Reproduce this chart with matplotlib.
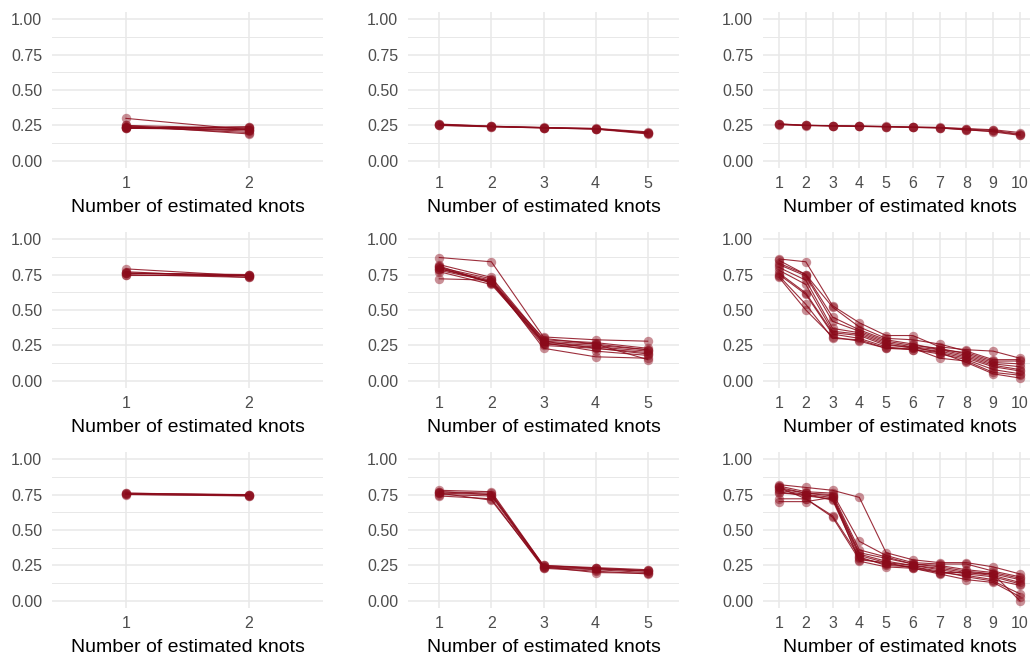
import numpy as np
import matplotlib
matplotlib.use('Agg')
import matplotlib.pyplot as plt
from matplotlib.ticker import MultipleLocator

plt.rcParams['font.family'] = ['Liberation Sans', 'DejaVu Sans']

#%% data: one list per simulation run, values at knots 1..K

# row 1
p11 = [[0.30, 0.22], [0.24, 0.23], [0.25, 0.19], [0.23, 0.24], [0.24, 0.21],
       [0.23, 0.22], [0.25, 0.23], [0.24, 0.20], [0.23, 0.24], [0.24, 0.22]]
p12 = [[0.26, 0.245, 0.235, 0.228, 0.200], [0.255, 0.243, 0.234, 0.226, 0.195],
       [0.25, 0.24, 0.233, 0.224, 0.190], [0.258, 0.244, 0.236, 0.229, 0.205],
       [0.252, 0.242, 0.232, 0.225, 0.198]]
p13 = [[0.26, 0.25, 0.248, 0.245, 0.243, 0.238, 0.235, 0.225, 0.215, 0.19],
       [0.255, 0.252, 0.247, 0.246, 0.242, 0.237, 0.233, 0.220, 0.205, 0.18],
       [0.262, 0.251, 0.249, 0.244, 0.241, 0.239, 0.236, 0.228, 0.220, 0.20],
       [0.258, 0.249, 0.246, 0.243, 0.240, 0.236, 0.232, 0.218, 0.210, 0.185]]

# row 2
p21 = [[0.79, 0.74], [0.76, 0.75], [0.75, 0.73], [0.76, 0.74], [0.75, 0.75],
       [0.77, 0.73], [0.76, 0.745]]
p22 = [[0.87, 0.84, 0.31, 0.29, 0.28], [0.82, 0.73, 0.29, 0.27, 0.23],
       [0.80, 0.72, 0.28, 0.26, 0.22], [0.79, 0.71, 0.27, 0.25, 0.22],
       [0.78, 0.70, 0.26, 0.24, 0.21], [0.81, 0.69, 0.25, 0.23, 0.19],
       [0.77, 0.68, 0.27, 0.21, 0.18], [0.72, 0.71, 0.23, 0.17, 0.16],
       [0.79, 0.70, 0.30, 0.26, 0.15], [0.80, 0.69, 0.28, 0.23, 0.20]]
p23 = [[0.86, 0.84, 0.53, 0.41, 0.32, 0.32, 0.24, 0.22, 0.21, 0.16],
       [0.85, 0.75, 0.52, 0.38, 0.30, 0.29, 0.26, 0.21, 0.15, 0.15],
       [0.83, 0.75, 0.45, 0.36, 0.29, 0.26, 0.22, 0.20, 0.14, 0.14],
       [0.82, 0.74, 0.42, 0.35, 0.28, 0.25, 0.23, 0.19, 0.13, 0.12],
       [0.80, 0.71, 0.37, 0.34, 0.27, 0.24, 0.22, 0.18, 0.12, 0.10],
       [0.78, 0.68, 0.35, 0.33, 0.26, 0.23, 0.21, 0.17, 0.11, 0.08],
       [0.76, 0.62, 0.34, 0.32, 0.25, 0.24, 0.20, 0.16, 0.10, 0.07],
       [0.75, 0.61, 0.33, 0.30, 0.24, 0.22, 0.19, 0.15, 0.08, 0.05],
       [0.74, 0.54, 0.30, 0.29, 0.23, 0.23, 0.16, 0.14, 0.06, 0.04],
       [0.73, 0.50, 0.31, 0.28, 0.23, 0.22, 0.20, 0.13, 0.05, 0.02]]

# row 3
p31 = [[0.76, 0.745], [0.75, 0.74], [0.755, 0.75], [0.76, 0.748], [0.752, 0.742]]
p32 = [[0.78, 0.77, 0.25, 0.235, 0.22], [0.77, 0.76, 0.245, 0.23, 0.215],
       [0.76, 0.75, 0.24, 0.225, 0.21], [0.75, 0.74, 0.235, 0.22, 0.20],
       [0.74, 0.72, 0.23, 0.21, 0.19], [0.76, 0.71, 0.24, 0.20, 0.195],
       [0.77, 0.75, 0.25, 0.23, 0.21]]
p33 = [[0.82, 0.80, 0.78, 0.73, 0.34, 0.29, 0.27, 0.27, 0.24, 0.19],
       [0.81, 0.77, 0.76, 0.42, 0.32, 0.27, 0.26, 0.26, 0.21, 0.17],
       [0.80, 0.76, 0.75, 0.36, 0.31, 0.26, 0.25, 0.22, 0.20, 0.16],
       [0.79, 0.76, 0.74, 0.34, 0.30, 0.26, 0.24, 0.21, 0.19, 0.15],
       [0.78, 0.75, 0.73, 0.33, 0.28, 0.25, 0.23, 0.20, 0.18, 0.13],
       [0.77, 0.74, 0.72, 0.32, 0.27, 0.25, 0.22, 0.19, 0.17, 0.12],
       [0.76, 0.75, 0.71, 0.30, 0.26, 0.24, 0.20, 0.18, 0.15, 0.11],
       [0.80, 0.72, 0.60, 0.31, 0.25, 0.24, 0.21, 0.17, 0.14, 0.05],
       [0.72, 0.72, 0.59, 0.29, 0.27, 0.23, 0.19, 0.15, 0.13, 0.03],
       [0.70, 0.70, 0.73, 0.28, 0.24, 0.23, 0.20, 0.20, 0.19, 0.00]]

panels = [[p11, p12, p13], [p21, p22, p23], [p31, p32, p33]]

#%% plot
col = '#8B0A1A'
W, H = 1030, 657
fig = plt.figure(figsize=(W / 100, H / 100), dpi=100)

lefts = [52, 408, 763]
rights = [323, 679, 1036]
tops = [12, 232, 452]
ph = 156

for r in range(3):
    for c in range(3):
        runs = panels[r][c]
        ax = fig.add_axes([lefts[c] / W, 1 - (tops[r] + ph) / H,
                           (rights[c] - lefts[c]) / W, ph / H])
        k = len(runs[0])
        x = np.arange(1, k + 1)
        for run in runs:
            ax.plot(x, run, color=col, lw=0.8, alpha=0.85, zorder=3)
            ax.scatter(x, run, s=46, color=col, alpha=0.45, lw=0, zorder=4)
        ax.set_xlim(0.4, k + 0.6)
        ax.set_ylim(-0.05, 1.05)
        ax.set_xticks(x)
        ax.set_yticks([0, 0.25, 0.5, 0.75, 1.0])
        ax.set_yticklabels(['0.00', '0.25', '0.50', '0.75', '1.00'])
        ax.yaxis.set_minor_locator(MultipleLocator(0.125))
        ax.grid(which='major', color='#E8E8E8', lw=1.1, zorder=0)
        ax.grid(which='minor', axis='y', color='#E8E8E8', lw=0.7, zorder=0)
        ax.set_axisbelow(True)
        for s in ax.spines.values():
            s.set_visible(False)
        ax.tick_params(which='both', length=0)
        ax.tick_params(axis='y', labelsize=11.5, labelcolor='#4D4D4D', pad=7)
        ax.tick_params(axis='x', labelsize=11.5, labelcolor='#4D4D4D', pad=6)
        ax.set_xlabel('Number of estimated knots', fontsize=14, labelpad=5.5)

plt.savefig('out.png', dpi=100)
plt.close('all')
